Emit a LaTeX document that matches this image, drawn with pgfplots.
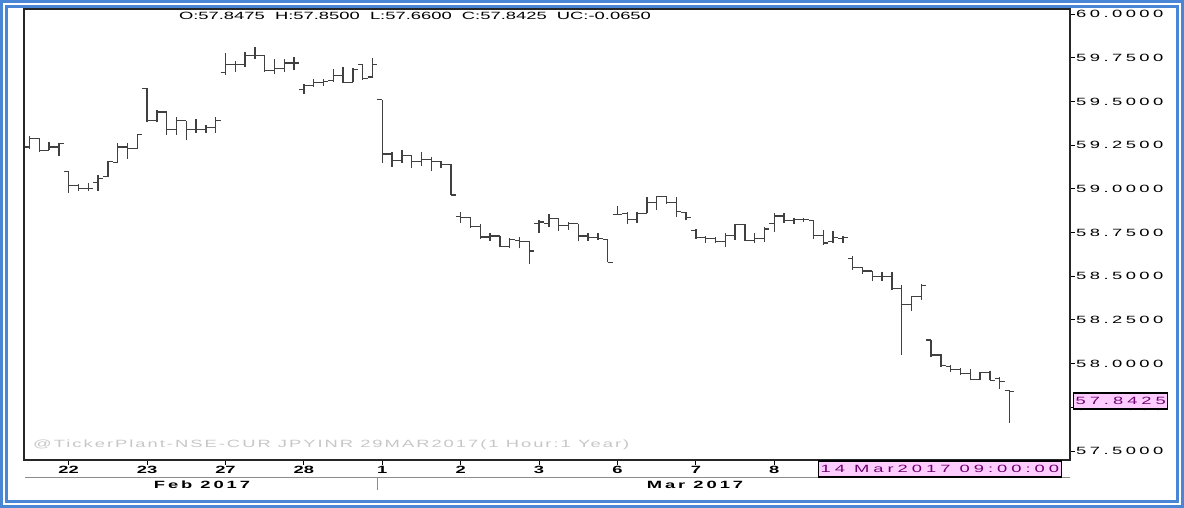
\documentclass[border=0pt]{standalone}
\usepackage{fontspec}
\setmainfont{Liberation Sans}[FakeStretch=1.75]
\newfontfamily\spfont{Liberation Sans}[FakeStretch=1.75,LetterSpace=33]
\newfontfamily\wmfont{Liberation Sans}[FakeStretch=1.75,LetterSpace=19]
\newfontfamily\boxfont{Liberation Sans}[FakeStretch=1.75,LetterSpace=38]
\newfontfamily\dayfont{Liberation Sans}[FakeStretch=1.75,LetterSpace=28]
\usepackage{pgfplots}
\pgfplotsset{compat=1.18}
\usepackage{pgfplotstable}
\definecolor{frameblue}{RGB}{74,134,214}
\definecolor{boxpink}{RGB}{255,204,255}
\definecolor{boxtext}{RGB}{110,0,110}
\definecolor{barcol}{RGB}{64,64,64}

\pgfplotstableread{
i O H L C
0 59.24 59.30 59.23 59.29
1 59.29 59.29 59.21 59.22
2 59.22 59.27 59.22 59.24
3 59.24 59.26 59.19 59.26
4 59.10 59.10 58.975 59.02
5 59.02 59.025 58.99 59.00
6 59.00 59.035 58.99 59.00
7 59.035 59.08 58.99 59.06
8 59.07 59.16 59.07 59.155
9 59.15 59.26 59.15 59.24
10 59.24 59.26 59.17 59.23
11 59.23 59.31 59.23 59.31
12 59.575 59.575 59.38 59.39
13 59.39 59.45 59.38 59.44
14 59.44 59.44 59.31 59.34
15 59.34 59.41 59.31 59.39
16 59.39 59.39 59.28 59.34
17 59.34 59.40 59.32 59.34
18 59.34 59.365 59.32 59.35
19 59.35 59.41 59.32 59.39
20 59.665 59.78 59.65 59.71
21 59.71 59.73 59.67 59.71
22 59.71 59.785 59.70 59.765
23 59.765 59.81 59.745 59.765
24 59.765 59.765 59.67 59.675
25 59.675 59.745 59.655 59.69
26 59.69 59.745 59.67 59.72
27 59.72 59.755 59.68 59.72
28 59.57 59.60 59.54 59.59
29 59.59 59.63 59.585 59.61
30 59.61 59.63 59.59 59.615
31 59.62 59.685 59.61 59.65
32 59.65 59.70 59.605 59.61
33 59.61 59.69 59.61 59.685
34 59.71 59.715 59.62 59.63
35 59.64 59.75 59.64 59.71
36 59.51 59.51 59.15 59.20
37 59.20 59.21 59.125 59.16
38 59.16 59.22 59.15 59.19
39 59.19 59.19 59.12 59.155
40 59.155 59.21 59.13 59.17
41 59.17 59.18 59.10 59.155
42 59.155 59.16 59.12 59.14
43 59.14 59.14 58.965 58.965
44 58.84 58.865 58.805 58.835
45 58.835 58.835 58.775 58.785
46 58.785 58.80 58.715 58.725
47 58.725 58.75 58.70 58.73
48 58.73 58.73 58.665 58.67
49 58.67 58.72 58.66 58.71
50 58.705 58.725 58.66 58.70
51 58.70 58.70 58.57 58.645
52 58.80 58.82 58.75 58.81
53 58.80 58.855 58.78 58.83
54 58.83 58.83 58.76 58.79
55 58.79 58.81 58.765 58.80
56 58.80 58.80 58.70 58.73
57 58.73 58.745 58.70 58.72
58 58.72 58.745 58.705 58.715
59 58.71 58.71 58.58 58.58
60 58.855 58.90 58.85 58.855
61 58.86 58.865 58.80 58.825
62 58.825 58.865 58.805 58.86
63 58.86 58.955 58.86 58.92
64 58.92 58.96 58.88 58.955
65 58.955 58.96 58.915 58.92
66 58.92 58.955 58.84 58.87
67 58.865 58.87 58.82 58.835
68 58.76 58.77 58.715 58.72
69 58.72 58.73 58.69 58.715
70 58.715 58.725 58.69 58.70
71 58.70 58.745 58.67 58.735
72 58.735 58.80 58.71 58.795
73 58.795 58.80 58.70 58.705
74 58.705 58.745 58.69 58.715
75 58.715 58.78 58.695 58.77
76 58.80 58.86 58.755 58.845
77 58.845 58.86 58.805 58.82
78 58.82 58.835 58.80 58.825
79 58.825 58.835 58.81 58.825
80 58.82 58.82 58.715 58.735
81 58.735 58.765 58.68 58.69
82 58.70 58.76 58.69 58.72
83 58.715 58.73 58.69 58.72
84 58.60 58.615 58.535 58.55
85 58.55 58.55 58.515 58.53
86 58.53 58.53 58.475 58.50
87 58.50 58.525 58.475 58.50
88 58.50 58.525 58.42 58.43
89 58.43 58.45 58.05 58.34
90 58.34 58.39 58.30 58.385
91 58.385 58.455 58.365 58.445
92 58.135 58.135 58.04 58.05
93 58.05 58.055 57.98 57.99
94 57.985 57.99 57.95 57.965
95 57.965 57.975 57.935 57.945
96 57.945 57.97 57.905 57.91
97 57.91 57.955 57.905 57.95
98 57.95 57.96 57.905 57.905
99 57.915 57.925 57.855 57.90
100 57.8475 57.85 57.66 57.8425
}\ohlc

\begin{document}
\fontsize{10.5}{12}\selectfont
\begin{tikzpicture}[x=1pt,y=1pt]
\useasboundingbox (0,0) rectangle (1184,508);
\fill[frameblue] (0,0) rectangle (1184,508);
\fill[white] (3,3) rectangle (1181,505);
\draw[frameblue, line width=3pt] (6.5,6.5) rectangle (1177.5,501.5);
\fill[white] (8,8) rectangle (1176,500);

\begin{axis}[
  at={(24pt,48pt)}, anchor=south west,
  scale only axis, width=1046pt, height=451pt,
  xmin=-0.56, xmax=106.17, ymin=57.449, ymax=60.029,
  axis line style={black!85, line width=1.5pt},
  xtick={4,12,20,28,36,44,52,60,68,76},
  xticklabels={22,23,27,28,1,2,3,6,7,8},
  xtick pos=bottom, ytick pos=right, yticklabel pos=right,
  tick align=outside, major tick length=5pt,
  tick style={black, line width=1pt},
  ytick={57.5,57.75,58,58.25,58.5,58.75,59,59.25,59.5,59.75,60},
  xticklabel style={font=\bfseries, inner ysep=1pt},
  yticklabel style={font=\spfont, anchor=west, inner xsep=1pt,
    /pgf/number format/.cd, fixed, fixed zerofill, precision=4, 1000 sep={}, assume math mode=true},
]
\addplot[barcol, line width=1.5pt, quiver={u=0, v=\thisrow{H}-\thisrow{L}}] table[x=i, y=L] {\ohlc};
\addplot[barcol, line width=1.2pt, quiver={u=0.5, v=0}] table[x expr=\thisrow{i}-0.5, y=O] {\ohlc};
\addplot[barcol, line width=1.2pt, quiver={u=0.5, v=0}] table[x=i, y=C] {\ohlc};
\end{axis}

\node at (415,492) {O:57.8475\ \ H:57.8500\ \ L:57.6600\ \ C:57.8425\ \ UC:-0.0650};
\node[anchor=west, text=black!22, inner sep=0pt] at (33,63) {\wmfont @TickerPlant-NSE-CUR JPYINR 29MAR2017(1 Hour:1 Year)};

\draw[black!45, line width=1pt] (25,30) -- (1070,30);
\draw[black!45, line width=1pt] (377.5,30) -- (377.5,18);
\node[font=\bfseries\dayfont] at (202,23) {Feb 2017};
\node[font=\bfseries\dayfont] at (695,23) {Mar 2017};

\node[draw=black, line width=1.1pt, fill=boxpink, text=boxtext, anchor=west, minimum height=16pt, inner xsep=2pt, inner ysep=0pt] at (818,39) {\boxfont 14 Mar2017 09:00:00};
\node[draw=black, line width=1.1pt, fill=boxpink, text=boxtext, anchor=west, minimum height=16pt, inner xsep=2pt, inner ysep=0pt] at (1073,107) {\boxfont 57.8425};
\end{tikzpicture}
\end{document}
